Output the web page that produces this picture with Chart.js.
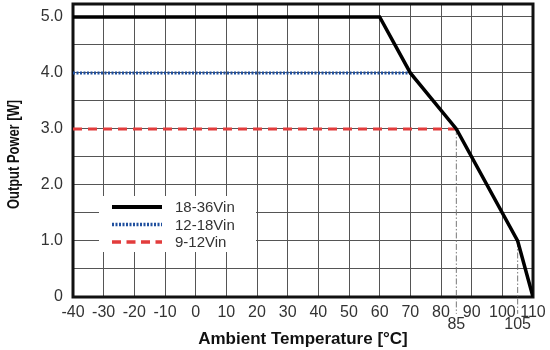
<!DOCTYPE html>
<html>
<head>
<meta charset="utf-8">
<script src="https://cdn.jsdelivr.net/npm/chart.js@4"></script>
<style>
  html, body { margin: 0; padding: 0; background: #fff; }
  #wrap { width: 550px; height: 350px; }
</style>
</head>
<body>
<div id="wrap"><canvas id="derating"></canvas></div>
<script>
// derating curves
const seriesNames = ['18-36Vin', '12-18Vin', '9-12Vin'];
const tempWide = [-40, 60, 70, 85, 105, 110];
const powerWide = [5, 5, 4, 3, 1, 0];
const tempMid = [-40, 70];
const powerMid = [4, 4];
const tempLow = [-40, 85];
const powerLow = [3, 3];

// dash-dot markers dropped to the axis
const markTemps = [85, 105];
const markPowers = [3, 1];

const xTickValues = [-40, -30, -20, -10, 0, 10, 20, 30, 40, 50, 60, 70, 80, 90, 100, 110];
const yTickValues = [0, 0.5, 1, 1.5, 2, 2.5, 3, 3.5, 4, 4.5, 5];
const yTitle = 'Output Power [W]';

const toPoints = (xs, ys) => xs.map((x, i) => ({ x: x, y: ys[i] }));

const markerSets = markTemps.map((t, i) => ({
    label: 'mark' + t,
    data: [{ x: t, y: markPowers[i] }, { x: t, y: -0.3 }],
    borderColor: '#777',
    borderWidth: 1,
    borderDash: [6, 2, 1.5, 2],
    pointRadius: 0,
    clip: false
}));

const frame = {
    id: 'frame',
    beforeDatasetsDraw(chart) {
        const { ctx, chartArea: a } = chart;
        ctx.save();
        ctx.strokeStyle = '#111';
        ctx.lineWidth = 3;
        ctx.strokeRect(a.left, a.top, a.right - a.left, a.bottom - a.top);
        ctx.restore();
    }
};

// legend sits inside the plot on a white box
const legendBox = {
    id: 'legendBox',
    beforeDatasetsDraw(chart) {
        const { ctx, chartArea: a } = chart;
        const x0 = a.left + 26;
        const y0 = 196;
        ctx.save();
        ctx.fillStyle = '#fff';
        ctx.fillRect(x0, y0, 157, 56);
        ctx.font = '15px "Liberation Sans", Arial, sans-serif';
        ctx.textBaseline = 'middle';
        chart.data.datasets.slice(0, 3).forEach((ds, i) => {
            const y = y0 + 11 + i * 17.5;
            ctx.strokeStyle = ds.borderColor;
            ctx.lineWidth = ds.borderWidth + 0.5;
            ctx.setLineDash(ds.legendDash || []);
            ctx.beginPath();
            ctx.moveTo(x0 + 13, y);
            ctx.lineTo(x0 + 63, y);
            ctx.stroke();
            ctx.setLineDash([]);
            ctx.fillStyle = '#333';
            ctx.fillText(ds.label, x0 + 76, y + 1);
        });
        ctx.restore();
    }
};

// y title is set in a narrow bold face, squeeze it a bit
const narrowTitle = {
    id: 'narrowTitle',
    afterDraw(chart) {
        const { ctx, chartArea: a } = chart;
        ctx.save();
        ctx.translate(14, (a.top + a.bottom) / 2 + 4);
        ctx.rotate(-Math.PI / 2);
        ctx.scale(0.76, 1);
        ctx.font = 'bold 17px "Liberation Sans", Arial, sans-serif';
        ctx.textAlign = 'center';
        ctx.textBaseline = 'middle';
        ctx.fillStyle = '#111';
        ctx.fillText(yTitle, 0, 0);
        ctx.restore();
    }
};

const ctx = document.getElementById('derating').getContext('2d');
new Chart(ctx, {
    type: 'line',
    data: {
        datasets: [
            {
                label: seriesNames[0],
                data: toPoints(tempWide, powerWide),
                borderColor: '#000',
                borderWidth: 3.5,
                pointRadius: 0
            },
            {
                label: seriesNames[1],
                data: toPoints(tempMid, powerMid),
                borderColor: '#1f4f9e',
                borderWidth: 3,
                borderDash: [2, 1.5],
                legendDash: [2, 1.5],
                pointRadius: 0
            },
            {
                label: seriesNames[2],
                data: toPoints(tempLow, powerLow),
                borderColor: '#e23c3c',
                borderWidth: 3,
                borderDash: [9, 6],
                legendDash: [9, 5.5],
                pointRadius: 0
            },
            ...markerSets
        ]
    },
    options: {
        responsive: true,
        maintainAspectRatio: false,
        animation: false,
        layout: { padding: { top: 4, right: 17, left: 0, bottom: 0 } },
        plugins: {
            legend: { display: false },
            tooltip: { enabled: false }
        },
        scales: {
            x: {
                type: 'linear',
                min: -40,
                max: 110,
                afterBuildTicks: scale => {
                    scale.ticks = xTickValues.concat(markTemps)
                        .sort((a, b) => a - b)
                        .map(v => ({ value: v }));
                },
                afterFit: scale => {
                    scale.height = 53;
                    scale.paddingLeft = 0;
                    scale.paddingRight = 0;
                },
                border: { display: false },
                grid: {
                    drawTicks: false,
                    color: c => markTemps.includes(c.tick && c.tick.value) ? 'rgba(0,0,0,0)' : '#555',
                    lineWidth: 1
                },
                ticks: {
                    autoSkip: false,
                    maxRotation: 0,
                    padding: 10,
                    color: '#333',
                    font: { family: '"Liberation Sans", Arial, sans-serif', size: 16, lineHeight: 0.72 },
                    callback: v => markTemps.includes(v) ? ['', String(v)] : String(v)
                },
                title: {
                    display: true,
                    text: 'Ambient Temperature [°C]',
                    color: '#111',
                    padding: { top: 0, bottom: 0 },
                    font: { family: '"Liberation Sans", Arial, sans-serif', size: 17, weight: 'bold' }
                }
            },
            y: {
                type: 'linear',
                min: 0,
                max: 5.23,
                afterBuildTicks: scale => {
                    scale.ticks = yTickValues.map(v => ({ value: v }));
                },
                afterFit: scale => {
                    scale.width = 73;
                    scale.paddingTop = 0;
                    scale.paddingBottom = 0;
                },
                border: { display: false },
                grid: { drawTicks: false, color: '#555', lineWidth: 1 },
                ticks: {
                    padding: 10,
                    color: '#333',
                    font: { family: '"Liberation Sans", Arial, sans-serif', size: 16 },
                    callback: v => v === 0 ? '0' : (Number.isInteger(v) ? v.toFixed(1) : '')
                },
                title: { display: false }
            }
        }
    },
    plugins: [legendBox, frame, narrowTitle]
});
</script>
</body>
</html>
